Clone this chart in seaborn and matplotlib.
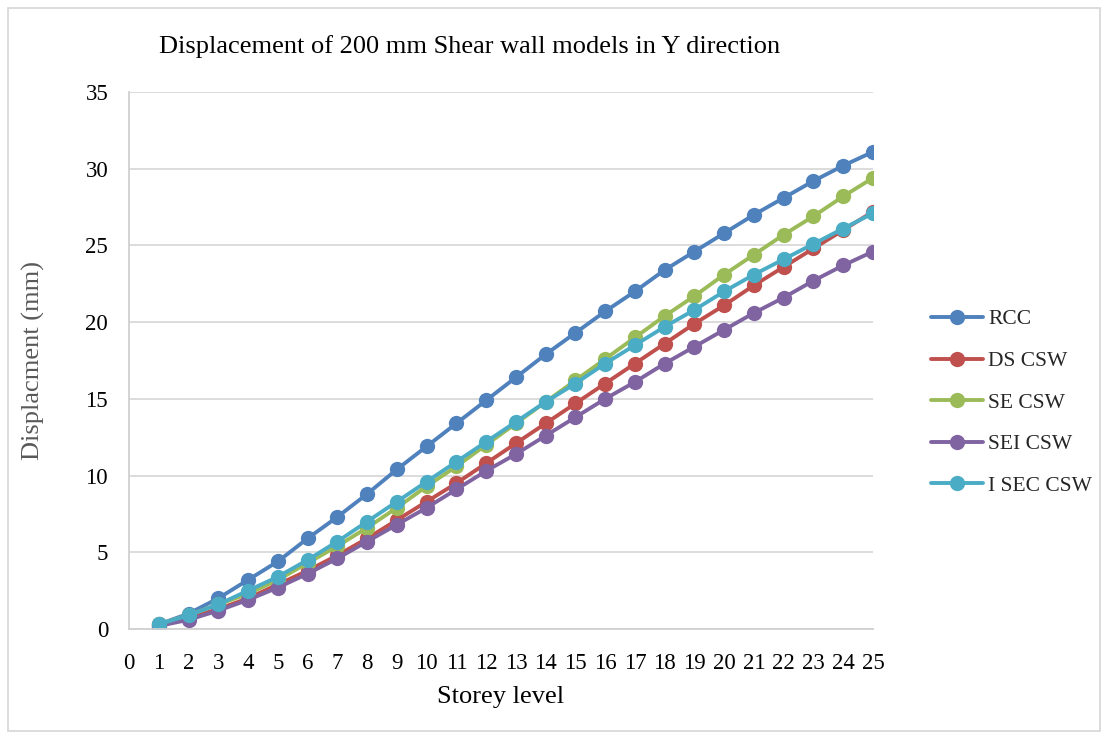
import matplotlib
matplotlib.use("Agg")
import matplotlib.pyplot as plt
import seaborn as sns
import pandas as pd

storeys = list(range(1, 26))
rcc = [0.3, 1.0, 2.0, 3.2, 4.4, 5.9, 7.3, 8.8, 10.4, 11.9, 13.4, 14.9, 16.4, 17.9, 19.3,
       20.7, 22.0, 23.4, 24.6, 25.8, 27.0, 28.1, 29.2, 30.2, 31.1]
ds_csw = [0.2, 0.7, 1.3, 2.0, 2.9, 3.8, 4.8, 5.9, 7.1, 8.3, 9.5, 10.8, 12.1, 13.4, 14.7,
          16.0, 17.3, 18.6, 19.9, 21.1, 22.4, 23.6, 24.8, 26.0, 27.2]
se_csw = [0.3, 0.9, 1.6, 2.3, 3.2, 4.3, 5.4, 6.6, 7.9, 9.3, 10.6, 12.0, 13.4, 14.8, 16.2,
          17.6, 19.0, 20.4, 21.7, 23.1, 24.4, 25.7, 26.9, 28.2, 29.4]
sei_csw = [0.2, 0.6, 1.2, 1.9, 2.7, 3.6, 4.6, 5.7, 6.8, 7.9, 9.1, 10.3, 11.4, 12.6, 13.8,
           15.0, 16.1, 17.3, 18.4, 19.5, 20.6, 21.6, 22.7, 23.7, 24.6]
isec_csw = [0.3, 0.9, 1.6, 2.5, 3.4, 4.5, 5.7, 7.0, 8.3, 9.6, 10.9, 12.2, 13.5, 14.8, 16.0,
            17.3, 18.5, 19.7, 20.8, 22.0, 23.1, 24.1, 25.1, 26.1, 27.1]
series_names = ["RCC", "DS CSW", "SE CSW", "SEI CSW", "I SEC CSW"]
colors = ["#4F81BD", "#C0504D", "#9BBB59", "#8064A2", "#4BACC6"]

rows = []
for name, vals in zip(series_names, [rcc, ds_csw, se_csw, sei_csw, isec_csw]):
    for s, v in zip(storeys, vals):
        rows.append({"Storey": s, "Disp": v, "Model": name})
df = pd.DataFrame(rows)

sns.set_theme(style="white")
plt.rcParams["font.family"] = ["Liberation Serif", "DejaVu Serif"]

fig = plt.figure(figsize=(11.08, 7.39), dpi=100)
fig.patch.set_facecolor("white")
ax = fig.add_axes([129/1108, 1-629/739, (873-129)/1108, (629-92)/739])

sns.lineplot(data=df, x="Storey", y="Disp", hue="Model", hue_order=series_names,
             palette=colors, marker="o", markersize=11, markeredgewidth=0,
             linewidth=2.8, ax=ax, legend=True)

ax.set_xlim(0, 25)
ax.set_ylim(0, 35)
ax.set_xticks(range(0, 26))
ax.set_yticks(range(0, 36, 5))
ax.tick_params(axis="both", length=0, labelsize=16.5, colors="black")
ax.tick_params(axis="y", pad=15)
ax.tick_params(axis="x", pad=17)
ax.yaxis.grid(True, color="#D9D9D9", linewidth=1.3)
ax.xaxis.grid(False)
for side in ["top", "right"]:
    ax.spines[side].set_visible(False)
for side in ["left", "bottom"]:
    ax.spines[side].set_color("#D0D0D0")
    ax.spines[side].set_linewidth(1.3)

ax.set_xlabel("Storey level", fontsize=19, color="black")
ax.set_ylabel("Displacment (mm)", fontsize=19, color="#595959")
ax.xaxis.set_label_coords(0.5, (629-697)/537)
ax.yaxis.set_label_coords((33-129)/744, 0.5)
ax.xaxis.label.set_va("center")
ax.yaxis.label.set_va("center")

fig.text(470/1108, 1-47/739, "Displacement of 200 mm Shear wall models in Y direction",
         ha="center", va="center", fontsize=19, color="black")

handles, labels = ax.get_legend_handles_labels()
ax.legend(handles, labels, loc="upper left", bbox_to_anchor=(912/1108, 1-290/739),
          bbox_transform=fig.transFigure, frameon=False, fontsize=15.5,
          handlelength=2.4, labelspacing=1.0, handletextpad=0.25)

border = plt.Rectangle((8/1108, 8/739), (1100-8)/1108, (731-8)/739, transform=fig.transFigure,
                       fill=False, edgecolor="#D9D9D9", linewidth=1.3)
fig.patches.append(border)

fig.savefig("out.png", dpi=100, facecolor="white")
